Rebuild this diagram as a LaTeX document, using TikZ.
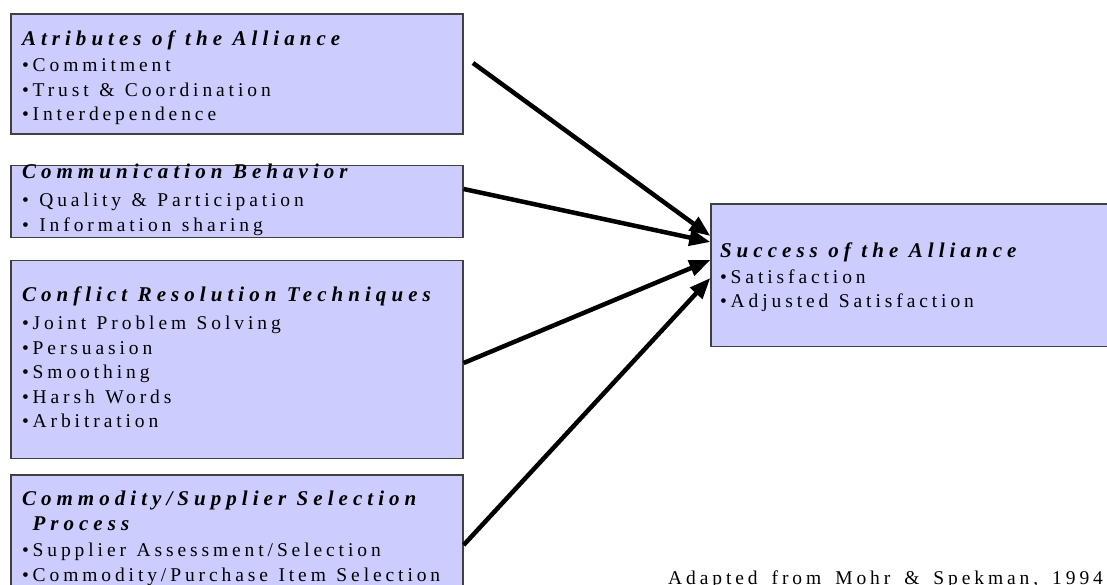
\documentclass[tikz,border=0pt]{standalone}
\usepackage{fontspec}
\setmainfont{Liberation Serif}
\newfontfamily\bodyff{Liberation Serif}[LetterSpace=20]
\newfontfamily\headff{Liberation Serif}[LetterSpace=24]
\usepackage{tikz}
\usetikzlibrary{arrows.meta}
\usetikzlibrary{positioning}
\usepackage{xcolor}

\definecolor{boxfill}{HTML}{CCCCFF}
\definecolor{boxline}{HTML}{404040}

% heading line, struts above the first and below the last line
% (align=left resets \spaceskip, so the word space is set again in \tp)
\newcommand{\hd}[1]{\smash{\headff\bfseries\itshape\fontsize{21}{24.5}\selectfont#1}}
\newcommand{\tp}[1]{\spaceskip=10.5pt plus 2pt\relax\rule{0pt}{#1pt}}
\newcommand{\bt}[1]{\rule[-#1pt]{0pt}{#1pt}}
\newcommand{\bodyfont}{\bodyff\fontsize{19.5}{24.5}\selectfont\spaceskip=10.5pt plus 2pt\relax}

\begin{document}
\begin{tikzpicture}[x=1pt,y=-1pt,
    box/.style={draw=boxline, line width=1.3pt, fill=boxfill, rectangle,
        text width=430pt, inner xsep=11pt, inner ysep=0pt, align=left,
        font=\bodyfont},
    arr/.style={line width=4.5pt, -{Triangle[length=21pt,width=16pt]}}]

\useasboundingbox (0,0) rectangle (1107,585);

\node[box, anchor=north] (attr) at (237,13.35)
    {\tp{32}\hd{Atributes of the Alliance}\\[1.5pt]
     •Commitment\\
     •Trust \& Coordination\\
     •Interdependence\bt{13}};
\node[box, below=30pt of attr] (comm)
    {\tp{13}\hd{Communication Behavior}\\[3.5pt]
     • Quality \& Participation\\[0.5pt]
     • Information sharing\bt{6}};
\node[box, below=22pt of comm] (conf)
    {\tp{41}\hd{Conflict Resolution Techniques}\\[3.5pt]
     •Joint Problem Solving\\
     •Persuasion\\
     •Smoothing\\
     •Harsh Words\\
     •Arbitration\bt{31}};
\node[box, below=15pt of conf] (proc)
    {\tp{31}\hd{Commodity/Supplier Selection}\\[0.5pt]
     \hd{\ Process}\\[1.5pt]
     •Supplier Assessment/Selection\\[0.5pt]
     •Commodity/Purchase Item Selection\bt{23}};

\node[box, text width=422pt, inner xsep=9pt, anchor=north] (succ) at (931,203.35)
    {\tp{53}\hd{Success of the Alliance}\\[1.5pt]
     •Satisfaction\\
     •Adjusted Satisfaction\bt{39}};

\node[anchor=base west, inner sep=0pt, font={\bodyfont\spaceskip=14pt\relax}] (src) at (668,584)
    {Adapted from Mohr \& Spekman, 1994};

\coordinate (o1) at (473,63);
\coordinate (o2) at (comm.east |- 0,189);
\coordinate (o3) at (conf.east |- 0,363);
\coordinate (o4) at (proc.east |- 0,545);
\coordinate (i1) at (succ.west |- 0,236);
\coordinate (i2) at (succ.west |- 0,242);
\coordinate (i3) at (succ.west |- 0,260);
\coordinate (i4) at (succ.west |- 0,278);

\foreach \a/\b in {o1/i1, o2/i2, o3/i3, o4/i4}
    \draw[arr] (\a) -- (\b);

\end{tikzpicture}
\end{document}
